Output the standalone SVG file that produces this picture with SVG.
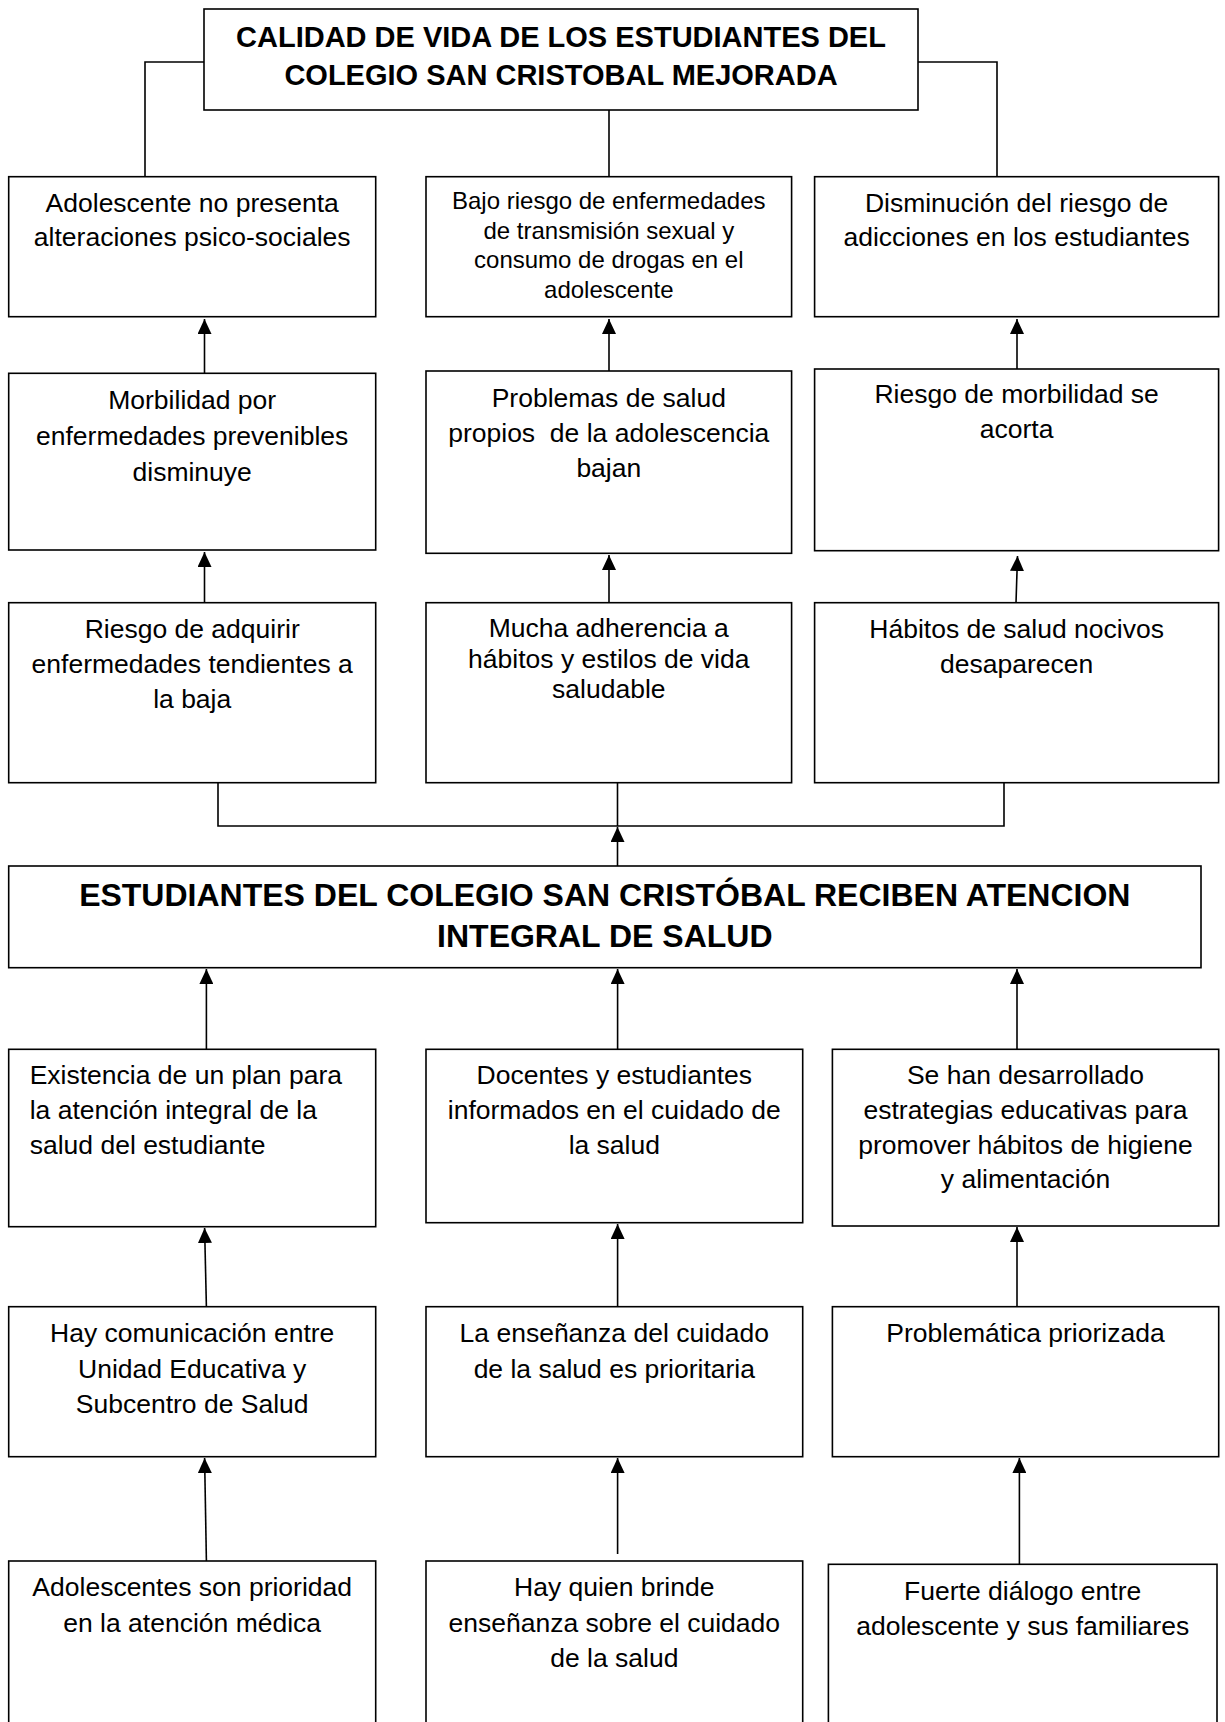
<svg xmlns="http://www.w3.org/2000/svg" width="1225" height="1722" viewBox="0 0 1225 1722">
<defs>
<style>
.box{fill:#fff;stroke:#000;stroke-width:1.6}
.t{font-family:"Liberation Sans",Arial,sans-serif;font-size:26.5px;fill:#000;text-anchor:middle;white-space:pre}
.s{font-size:24px}
.l{text-anchor:start}
.h{font-family:"Liberation Sans",Arial,sans-serif;font-weight:bold;fill:#000;text-anchor:middle}
.c{fill:none;stroke:#000;stroke-width:1.6}
.a{fill:none;stroke:#000;stroke-width:1.6;marker-end:url(#ah)}
</style>
<marker id="ah" markerUnits="userSpaceOnUse" markerWidth="15" markerHeight="14" refX="15" refY="7" orient="auto">
<path d="M0,0 L15,7 L0,14 z" fill="#000"/>
</marker>
</defs>
<rect width="1225" height="1722" fill="#fff"/>

<g id="connectors">
<path class="c" d="M204,62 H145 V177"/>
<path class="c" d="M609,110 V177"/>
<path class="c" d="M918,62 H997 V177"/>
<path class="a" d="M204.5,373 V319"/>
<path class="a" d="M609,371 V319"/>
<path class="a" d="M1017,369 V319"/>
<path class="a" d="M204.5,612 V552"/>
<path class="a" d="M609,603 V555"/>
<path class="a" d="M1016,603 L1017.5,556"/>
<path class="c" d="M218,783 V826 H1004 V783"/>
<path class="c" d="M617.5,783 V826"/>
<path class="a" d="M617.5,866 V827"/>
<path class="a" d="M206.4,1049 V969"/>
<path class="a" d="M617.6,1049 V969"/>
<path class="a" d="M1017,1049 V969"/>
<path class="a" d="M206.4,1307 L204.6,1228"/>
<path class="a" d="M617.6,1307 V1224"/>
<path class="a" d="M1017,1307 V1227"/>
<path class="a" d="M206.4,1561 L204.6,1458"/>
<path class="a" d="M617.6,1554 V1458"/>
<path class="a" d="M1019.4,1564 V1458"/>
</g>

<g id="title">
<rect class="box" x="204" y="9" width="714" height="101"/>
<text class="h" font-size="29" x="561" y="46.7">CALIDAD DE VIDA DE LOS ESTUDIANTES DEL</text>
<text class="h" font-size="29" x="561" y="85">COLEGIO SAN CRISTOBAL MEJORADA</text>
</g>

<g id="r1c1">
<rect class="box" x="8.7" y="176.7" width="367" height="140"/>
<text class="t" x="192.2" y="211.7">Adolescente no presenta</text>
<text class="t" x="192.2" y="246">alteraciones psico-sociales</text>
</g>
<g id="r1c2">
<rect class="box" x="426" y="176.7" width="365.6" height="140"/>
<text class="t s" x="608.8" y="209">Bajo riesgo de enfermedades</text>
<text class="t s" x="608.8" y="238.5">de transmisión sexual y</text>
<text class="t s" x="608.8" y="268">consumo de drogas en el</text>
<text class="t s" x="608.8" y="297.5">adolescente</text>
</g>
<g id="r1c3">
<rect class="box" x="814.6" y="176.7" width="404" height="140"/>
<text class="t" x="1016.6" y="211.7">Disminución del riesgo de</text>
<text class="t" x="1016.6" y="246">adicciones en los estudiantes</text>
</g>

<g id="r2c1">
<rect class="box" x="8.7" y="373.3" width="367" height="176.7"/>
<text class="t" x="192.2" y="409">Morbilidad por</text>
<text class="t" x="192.2" y="444.5">enfermedades prevenibles</text>
<text class="t" x="192.2" y="480.5">disminuye</text>
</g>
<g id="r2c2">
<rect class="box" x="426" y="371" width="365.6" height="182.3"/>
<text class="t" x="608.8" y="406.7">Problemas de salud</text>
<text class="t" x="608.8" y="441.7">propios  de la adolescencia</text>
<text class="t" x="608.8" y="476.7">bajan</text>
</g>
<g id="r2c3">
<rect class="box" x="814.6" y="369" width="404" height="181.7"/>
<text class="t" x="1016.6" y="403">Riesgo de morbilidad se</text>
<text class="t" x="1016.6" y="438">acorta</text>
</g>

<g id="r3c1">
<rect class="box" x="8.7" y="602.7" width="367" height="180"/>
<text class="t" x="192.2" y="637.5">Riesgo de adquirir</text>
<text class="t" x="192.2" y="673">enfermedades tendientes a</text>
<text class="t" x="192.2" y="708">la baja</text>
</g>
<g id="r3c2">
<rect class="box" x="426" y="602.7" width="365.6" height="180"/>
<text class="t" x="608.8" y="637">Mucha adherencia a</text>
<text class="t" x="608.8" y="667.5">hábitos y estilos de vida</text>
<text class="t" x="608.8" y="698">saludable</text>
</g>
<g id="r3c3">
<rect class="box" x="814.6" y="602.7" width="404" height="180"/>
<text class="t" x="1016.6" y="638">Hábitos de salud nocivos</text>
<text class="t" x="1016.6" y="672.7">desaparecen</text>
</g>

<g id="main">
<rect class="box" x="8.7" y="866" width="1192.3" height="101.7"/>
<text class="h" font-size="32" x="604.8" y="906">ESTUDIANTES DEL COLEGIO SAN CRISTÓBAL RECIBEN ATENCION</text>
<text class="h" font-size="32" x="604.8" y="946.7">INTEGRAL DE SALUD</text>
</g>

<g id="r4c1">
<rect class="box" x="8.7" y="1049.3" width="367" height="177.4"/>
<text class="t l" x="29.7" y="1084">Existencia de un plan para</text>
<text class="t l" x="29.7" y="1119.3">la atención integral de la</text>
<text class="t l" x="29.7" y="1154">salud del estudiante</text>
</g>
<g id="r4c2">
<rect class="box" x="426" y="1049.3" width="376.7" height="173.4"/>
<text class="t" x="614.3" y="1084">Docentes y estudiantes</text>
<text class="t" x="614.3" y="1119.3">informados en el cuidado de</text>
<text class="t" x="614.3" y="1154">la salud</text>
</g>
<g id="r4c3">
<rect class="box" x="832.4" y="1049.3" width="386.3" height="176.7"/>
<text class="t" x="1025.5" y="1084">Se han desarrollado</text>
<text class="t" x="1025.5" y="1119.3">estrategias educativas para</text>
<text class="t" x="1025.5" y="1153.5">promover hábitos de higiene</text>
<text class="t" x="1025.5" y="1188.3">y alimentación</text>
</g>

<g id="r5c1">
<rect class="box" x="8.7" y="1306.7" width="367" height="150"/>
<text class="t" x="192.2" y="1341.7">Hay comunicación entre</text>
<text class="t" x="192.2" y="1377.5">Unidad Educativa y</text>
<text class="t" x="192.2" y="1412.7">Subcentro de Salud</text>
</g>
<g id="r5c2">
<rect class="box" x="426" y="1306.7" width="376.7" height="150"/>
<text class="t" x="614.3" y="1341.7">La enseñanza del cuidado</text>
<text class="t" x="614.3" y="1377.5">de la salud es prioritaria</text>
</g>
<g id="r5c3">
<rect class="box" x="832.4" y="1306.7" width="386.3" height="150"/>
<text class="t" x="1025.5" y="1341.7">Problemática priorizada</text>
</g>

<g id="r6c1">
<rect class="box" x="8.7" y="1561" width="367" height="170"/>
<text class="t" x="192.2" y="1595.7">Adolescentes son prioridad</text>
<text class="t" x="192.2" y="1631.7">en la atención médica</text>
</g>
<g id="r6c2">
<rect class="box" x="426" y="1561" width="376.7" height="170"/>
<text class="t" x="614.3" y="1595.5">Hay quien brinde</text>
<text class="t" x="614.3" y="1631.7">enseñanza sobre el cuidado</text>
<text class="t" x="614.3" y="1667.3">de la salud</text>
</g>
<g id="r6c3">
<rect class="box" x="828.4" y="1564.3" width="388.6" height="170"/>
<text class="t" x="1022.7" y="1600">Fuerte diálogo entre</text>
<text class="t" x="1022.7" y="1635">adolescente y sus familiares</text>
</g>
</svg>
